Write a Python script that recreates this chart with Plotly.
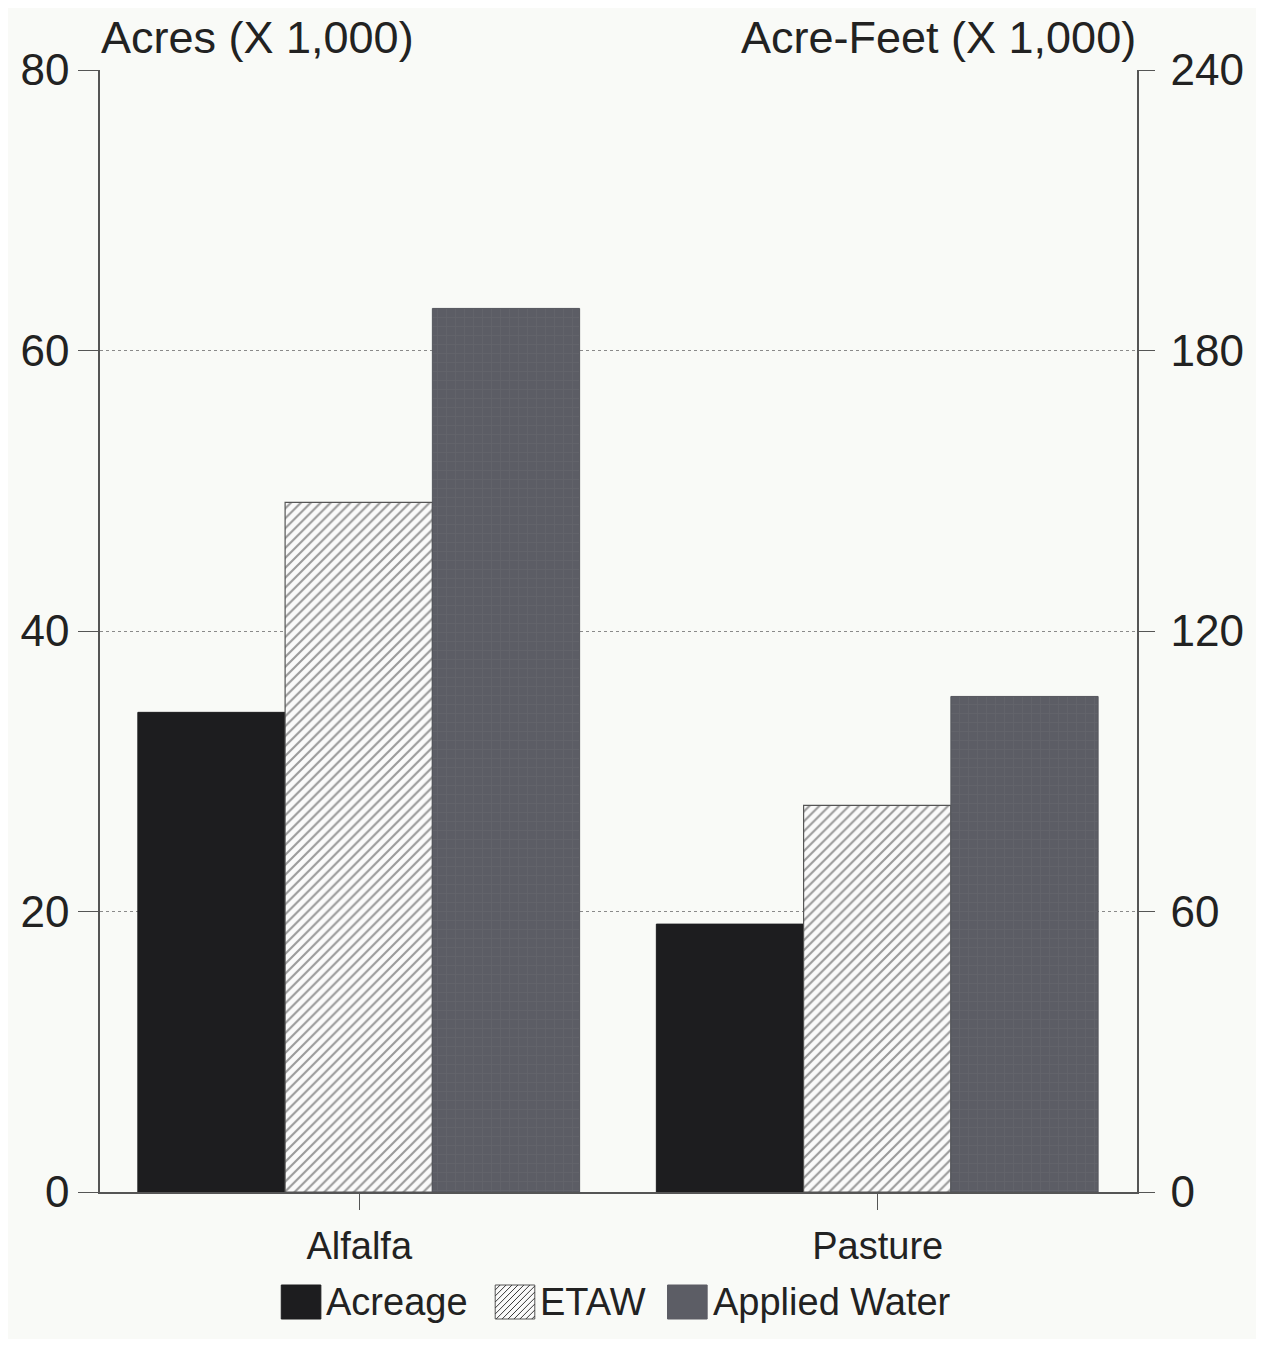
import plotly.graph_objects as go

categories = ["Alfalfa", "Pasture"]
acreage = [34.2, 19.1]          # thousand acres (left axis)
etaw = [147.5, 82.7]            # thousand acre-feet (right axis)
applied_water = [189, 106]      # thousand acre-feet (right axis)

series_names = ["Acreage", "ETAW", "Applied Water"]
left_ticks = [0, 20, 40, 60, 80]
right_ticks = [0, 60, 120, 180, 240]

FONT = "Liberation Sans, Arial, sans-serif"
TXT = "#222222"
BAR_W = 0.284
BLACK = "#1d1d1f"
GRAY = "#5c5d65"
HATCH_BG = "#fafafa"
HATCH_FG = "#3a3a3a"
BG = "#f9faf7"

# figure geometry (page body has an 8px margin)
W, H = 1248, 1331
ML, MR, MT, MB = 87, 114, 62, 147
PX0, PX1 = 95, 1142      # plot area, screen px
PY0, PY1 = 70, 1192


def px(sx):
    return (sx - PX0) / (PX1 - PX0)


def py(sy):
    return (PY1 - sy) / (PY1 - PY0)


fig = go.Figure()
fig.add_trace(go.Bar(
    x=categories, y=acreage, name=series_names[0], yaxis="y",
    width=BAR_W, offset=-0.427,
    marker=dict(color=BLACK, line=dict(color=BLACK, width=1)),
))
fig.add_trace(go.Bar(
    x=categories, y=etaw, name=series_names[1], yaxis="y2",
    width=BAR_W, offset=-0.143,
    marker=dict(color=HATCH_BG, line=dict(color="#555555", width=1.2),
                pattern=dict(shape="/", size=7, solidity=0.3,
                             fgcolor=HATCH_FG, bgcolor=HATCH_BG)),
))
fig.add_trace(go.Bar(
    x=categories, y=applied_water, name=series_names[2], yaxis="y2",
    width=BAR_W, offset=0.141,
    marker=dict(color=GRAY, line=dict(color="#55565d", width=1),
                pattern=dict(shape="+", size=9, solidity=0.15,
                             fgcolor="#6b6c73", bgcolor=GRAY)),
))

# ---- custom legend (large swatches, like the original) ----
LEG_Y0, LEG_Y1 = 1285, 1319
swatches = [(278, 318), (494, 534), (668, 708)]
label_x = [322, 538, 713]
fills = [BLACK, HATCH_BG, GRAY]
shapes = []
annotations = []
for (x0, x1), fill, lx, name in zip(swatches, fills, label_x, series_names):
    shapes.append(dict(type="rect", xref="paper", yref="paper",
                       x0=px(x0), x1=px(x1), y0=py(LEG_Y1), y1=py(LEG_Y0),
                       fillcolor=fill,
                       line=dict(color="#555555" if fill == HATCH_BG else fill,
                                 width=1)))
    annotations.append(dict(text=name, xref="paper", yref="paper",
                            x=px(lx), y=py((LEG_Y0 + LEG_Y1) / 2),
                            xanchor="left", yanchor="middle", showarrow=False,
                            borderpad=0,
                            font=dict(size=38, family=FONT, color=TXT)))

# hatch lines for the ETAW swatch ("/" direction)
hx0, hx1 = swatches[1]
hy0, hy1 = LEG_Y0, LEG_Y1
path = []
c = hx0 + hy0 + 5
while c < hx1 + hy1:
    pts = []
    for x in (hx0, hx1):
        y = c - x
        if hy0 <= y <= hy1:
            pts.append((x, y))
    for y in (hy0, hy1):
        x = c - y
        if hx0 <= x <= hx1:
            pts.append((x, y))
    pts = sorted(set(pts))
    if len(pts) >= 2:
        (ax, ay), (bx, by) = pts[0], pts[-1]
        path.append(f"M{px(ax):.5f},{py(ay):.5f}L{px(bx):.5f},{py(by):.5f}")
    c += 6
shapes.append(dict(type="path", xref="paper", yref="paper",
                   path="".join(path), line=dict(color=HATCH_FG, width=1)))

annotations += [
    dict(text="Acres (X 1,000)", xref="paper", yref="paper",
         x=0.0, y=py(37), xanchor="left", yanchor="middle",
         showarrow=False, borderpad=0,
         font=dict(size=45, family=FONT, color=TXT)),
    dict(text="Acre-Feet (X 1,000)", xref="paper", yref="paper",
         x=1.0, y=py(37), xanchor="right", yanchor="middle",
         showarrow=False, borderpad=0,
         font=dict(size=45, family=FONT, color=TXT)),
]

fig.update_layout(
    width=W, height=H,
    margin=dict(l=ML, r=MR, t=MT, b=MB),
    paper_bgcolor=BG, plot_bgcolor=BG,
    font=dict(family=FONT, color=TXT),
    barmode="overlay",
    showlegend=False,
    xaxis=dict(type="category", range=[-0.5, 1.5],
               showline=True, linecolor="#555555", linewidth=1.5,
               ticks="outside", ticklen=16, tickcolor="#555555",
               tickfont=dict(size=38, family=FONT, color=TXT),
               ticklabelstandoff=4, showgrid=False),
    yaxis=dict(range=[0, 80], tickvals=left_ticks,
               ticktext=[str(v) for v in left_ticks],
               showline=True, linecolor="#555555", linewidth=1.5,
               ticks="outside", ticklen=20, tickcolor="#555555",
               tickfont=dict(size=44, family=FONT, color=TXT),
               showgrid=True, gridcolor="#8a8a8a", gridwidth=1,
               griddash="dot", zeroline=False),
    yaxis2=dict(range=[0, 240], tickvals=right_ticks,
                ticktext=[str(v) for v in right_ticks],
                overlaying="y", side="right",
                showline=True, linecolor="#555555", linewidth=1.5,
                ticks="outside", ticklen=16, tickcolor="#555555",
                tickfont=dict(size=44, family=FONT, color=TXT),
                ticklabelstandoff=7,
                showgrid=False, zeroline=False),
    shapes=shapes,
    annotations=annotations,
)

fig.write_html("out.html")
